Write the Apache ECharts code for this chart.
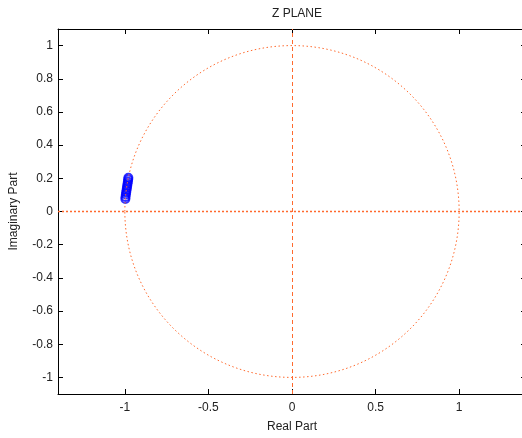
<!DOCTYPE html>
<html>
<head>
<meta charset="utf-8">
<script src="https://cdn.jsdelivr.net/npm/echarts@6/dist/echarts.min.js"></script>
<style>html,body{margin:0;padding:0;background:#fff;overflow:hidden;width:522px;height:438px}#c{width:532px;height:438px}</style>
</head>
<body>
<div id="c"></div>
<script>
const titleText = 'Z PLANE';
const xName = 'Real Part';
const yName = 'Imaginary Part';
const xTicks = [-1, -0.5, 0, 0.5, 1];
const yTicks = [-1, -0.8, -0.6, -0.4, -0.2, 0, 0.2, 0.4, 0.6, 0.8, 1];
const xRange = [-1.4, 1.4];
const yRange = [-1.1, 1.1];
// zeros (real, imag)
const zerosRe = [-0.997, -0.996, -0.994, -0.992, -0.990, -0.988, -0.986, -0.984, -0.982, -0.980, -0.979];
const zerosIm = [0.075, 0.088, 0.102, 0.115, 0.128, 0.141, 0.154, 0.167, 0.180, 0.193, 0.203];
// unit circle: center and radius
const unitCircle = [[0, 0, 1]];

const font = 'Liberation Sans, Arial, sans-serif';
const orange = '#ff6a2e';
const axisCommon = {
  axisLine: {show: true, onZero: false, lineStyle: {color: '#000', width: 1}},
  splitLine: {show: false},
  axisTick: {show: true, inside: true, length: 5, lineStyle: {color: '#000'}},
  axisLabel: {color: '#222', fontFamily: font, fontSize: 12}
};
const chart = echarts.init(document.getElementById('c'));
chart.setOption({
  animation: false,
  title: {text: titleText, left: 292, top: 3, textAlign: 'center',
    textStyle: {fontFamily: font, fontSize: 12, fontWeight: 'normal', color: '#222'}},
  grid: {left: 58, top: 29, right: 6, bottom: 38, containLabel: false},
  xAxis: [
    Object.assign({}, axisCommon, {type: 'value', position: 'bottom', min: xRange[0], max: xRange[1],
      name: xName, nameLocation: 'middle', nameGap: 27,
      nameTextStyle: {fontFamily: font, fontSize: 12, color: '#222'},
      axisTick: Object.assign({}, axisCommon.axisTick, {customValues: xTicks}),
      axisLabel: Object.assign({}, axisCommon.axisLabel, {customValues: xTicks, margin: 8, formatter: v => String(v)})}),
    Object.assign({}, axisCommon, {type: 'value', position: 'top', min: xRange[0], max: xRange[1],
      axisTick: Object.assign({}, axisCommon.axisTick, {customValues: xTicks}),
      axisLabel: {show: false}})
  ],
  yAxis: [
    Object.assign({}, axisCommon, {type: 'value', position: 'left', min: yRange[0], max: yRange[1],
      name: yName, nameLocation: 'middle', nameGap: 38, nameRotate: 90,
      nameTextStyle: {fontFamily: font, fontSize: 12, color: '#222'},
      axisTick: Object.assign({}, axisCommon.axisTick, {customValues: yTicks}),
      axisLabel: Object.assign({}, axisCommon.axisLabel, {customValues: yTicks, margin: 5, formatter: v => String(Math.round(v * 10) / 10)})}),
    Object.assign({}, axisCommon, {type: 'value', position: 'right', min: yRange[0], max: yRange[1],
      axisTick: Object.assign({}, axisCommon.axisTick, {customValues: yTicks}),
      axisLabel: {show: false}})
  ],
  series: [
    {
      type: 'scatter', xAxisIndex: 0, yAxisIndex: 0, z: 2,
      symbol: 'circle', symbolSize: 8,
      itemStyle: {color: 'rgba(0,0,0,0)', borderColor: '#0000ff', borderWidth: 2},
      data: zerosRe.map((x, i) => [x, zerosIm[i]]),
      markLine: {
        silent: true, symbol: 'none', label: {show: false},
        lineStyle: {color: orange, type: [2, 2], width: 1.3},
        data: [
          {yAxis: 0, lineStyle: {color: orange, type: [2, 2], width: 1.3}},
          {xAxis: 0, lineStyle: {color: orange, type: [4, 3], width: 1}}
        ]
      }
    },
    {
      type: 'custom', xAxisIndex: 0, yAxisIndex: 0, z: 3, silent: true,
      data: unitCircle,
      renderItem: function (params, api) {
        const c = api.coord([api.value(0), api.value(1)]);
        const s = api.size([api.value(2), api.value(2)]);
        return {
          type: 'ellipse',
          shape: {cx: c[0], cy: c[1], rx: s[0], ry: s[1]},
          style: {fill: null, stroke: orange, lineWidth: 1, lineDash: [1.5, 2.5]}
        };
      }
    }
  ]
});
</script>
</body>
</html>
